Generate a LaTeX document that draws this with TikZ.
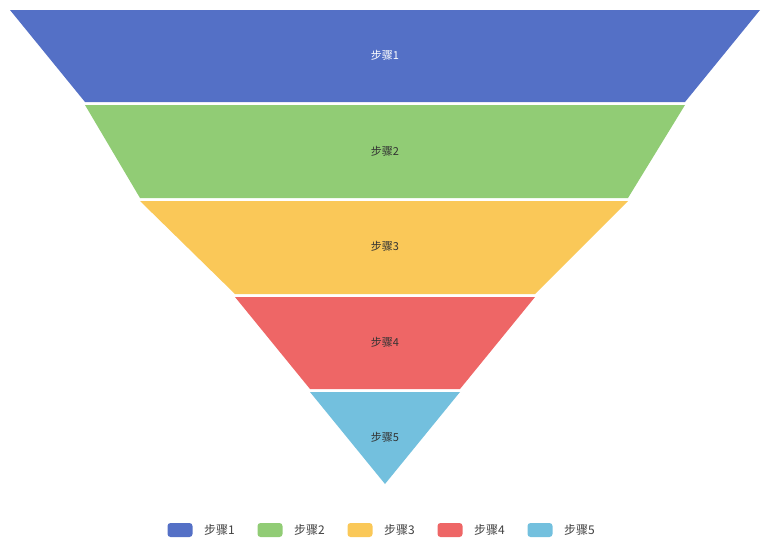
\documentclass[tikz,border=0pt]{standalone}
\usepackage{fontspec}
\setmainfont{Noto Sans CJK SC}
\begin{document}
\begin{tikzpicture}[x=1pt,y=-1pt,
  lay/.style={draw=none},
  lbl/.style={font=\fontsize{11}{13}\selectfont,text=#1},
  leg/.style={fill=#1,rounded corners=3pt,minimum width=25pt,minimum height=14pt,inner sep=0pt},
  legt/.style={font=\fontsize{12}{14}\selectfont,text=black!75,anchor=west,inner sep=0pt}]
\definecolor{c1}{HTML}{5470C6}\definecolor{c2}{HTML}{91CC75}\definecolor{c3}{HTML}{FAC858}
\definecolor{c4}{HTML}{EE6666}\definecolor{c5}{HTML}{73C0DE}
\useasboundingbox (0,0) rectangle (764,547);
\fill[c1] (10,10) -- (760,10) -- (685,102) -- (85,102) -- cycle;
\fill[c2] (85,105) -- (685,105) -- (628,198) -- (140,198) -- cycle;
\fill[c3] (140,201) -- (628,201) -- (535,294) -- (235,294) -- cycle;
\fill[c4] (235,297) -- (535,297) -- (460,389) -- (310,389) -- cycle;
\fill[c5] (310,392) -- (460,392) -- (385,484) -- cycle;
\node[lbl=white] (l1) at (385,55) {步骤1};
\node[lbl=black!80] (l2) at (385,151) {步骤2};
\node[lbl=black!80] (l3) at (385,246) {步骤3};
\node[lbl=black!80] (l4) at (385,342) {步骤4};
\node[lbl=black!80] (l5) at (385,437) {步骤5};
\foreach \i/\x in {1/180,2/270,3/360,4/450,5/540}{
  \node[leg=c\i] (k\i) at (\x,530) {};
  \node[legt] (t\i) at (\x+24,530) {步骤\i};
}
\end{tikzpicture}
\end{document}
